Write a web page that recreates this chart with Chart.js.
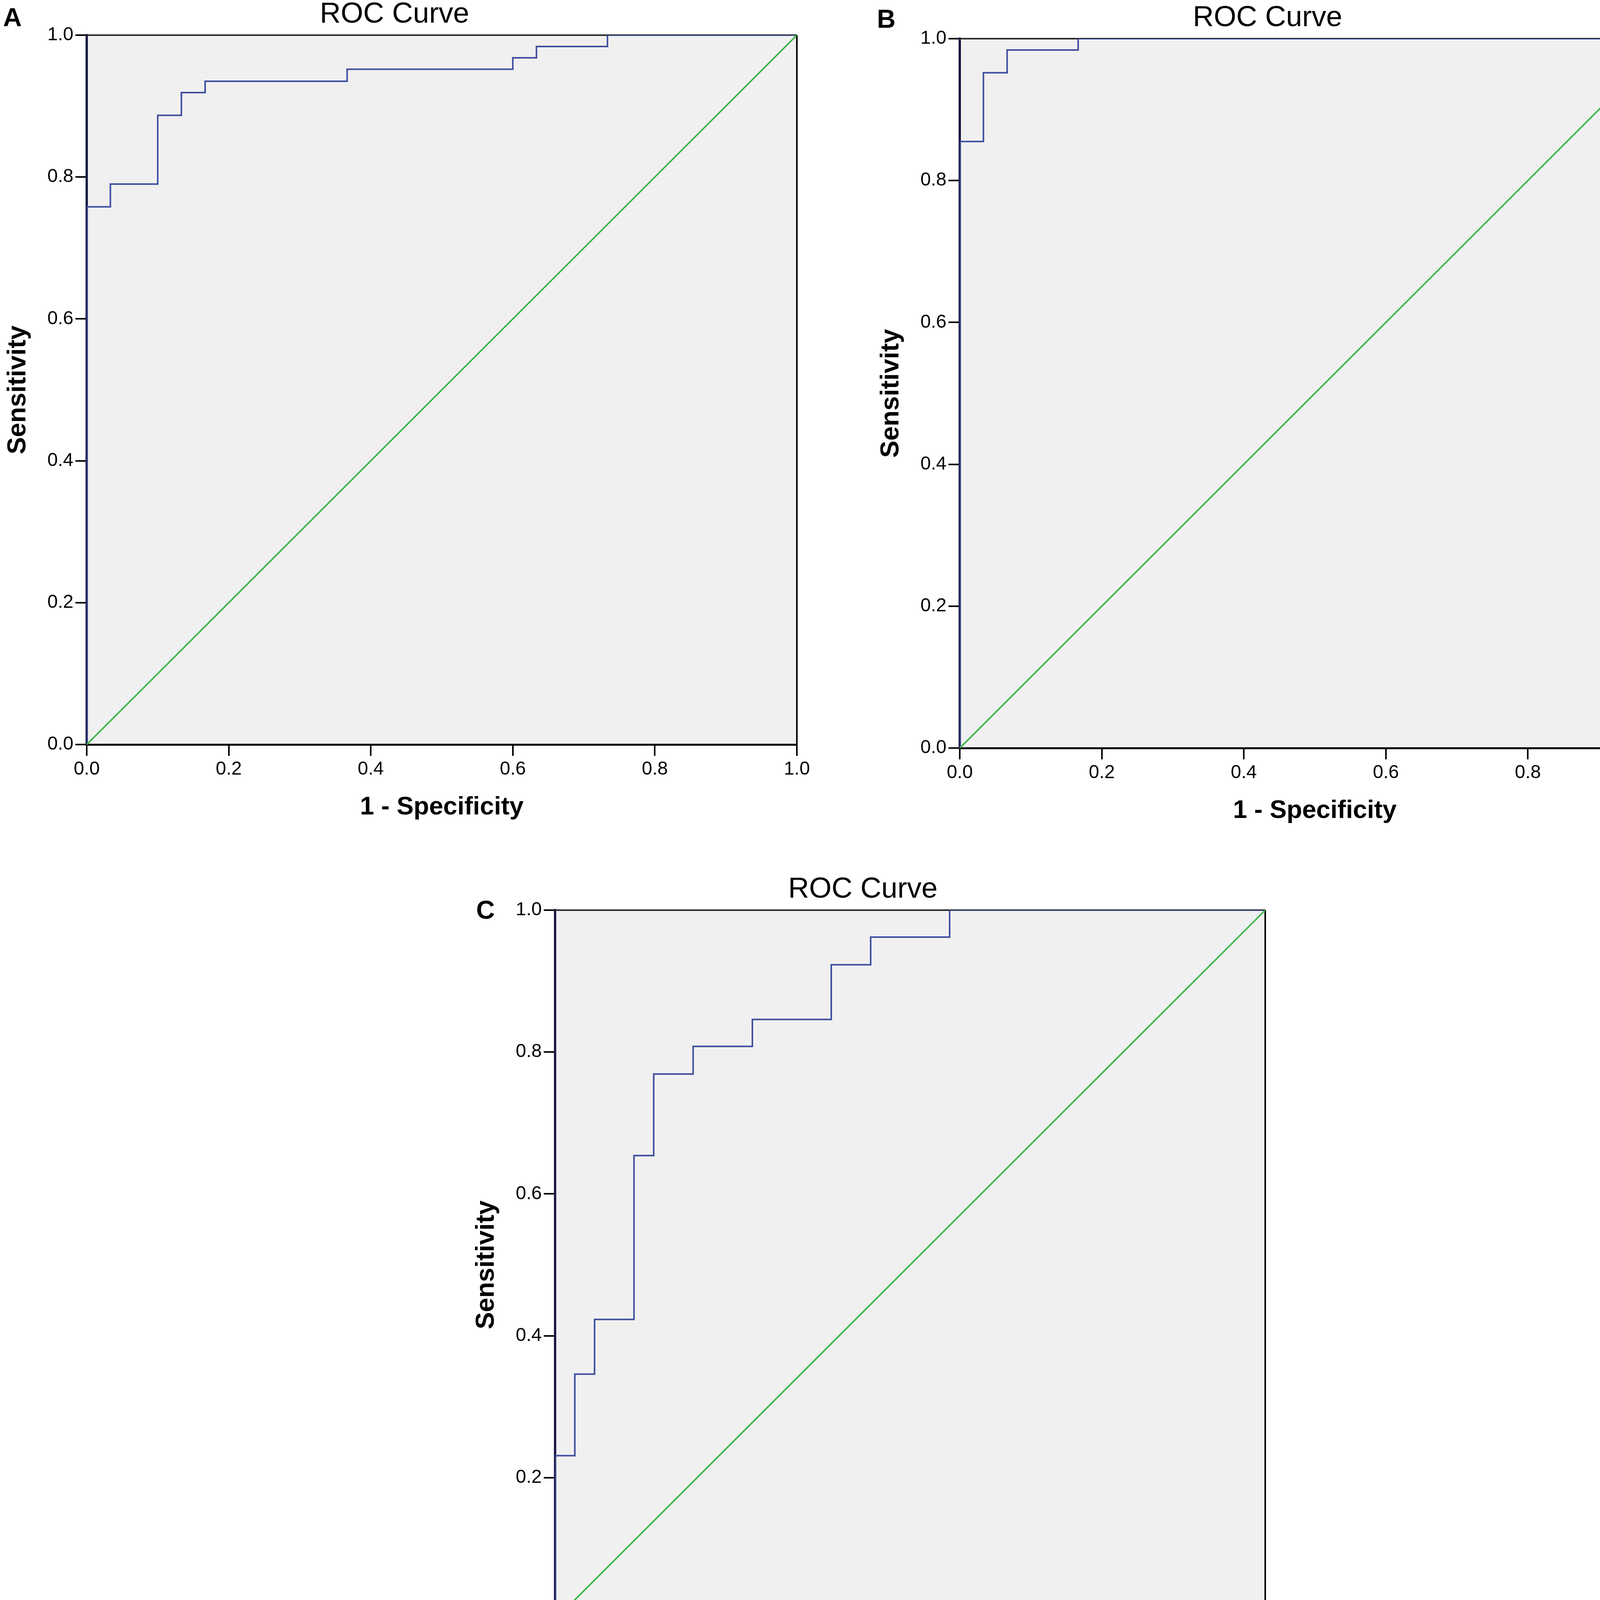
<!DOCTYPE html>
<html><head><meta charset="utf-8">
<script src="https://cdn.jsdelivr.net/npm/chart.js@4.4.0/dist/chart.umd.min.js"></script>
<style>
html,body{margin:0;padding:0;background:#fff;width:4317px;height:4354px;overflow:hidden;position:relative}
canvas{position:absolute}
</style></head><body>
<canvas id="cA"></canvas><canvas id="cB"></canvas><canvas id="cC"></canvas>
<script>
// ---------- DATA ----------
const tickValues = [0, 0.2, 0.4, 0.6, 0.8, 1.0];
const tickLabels = ['0.0', '0.2', '0.4', '0.6', '0.8', '1.0'];
const panelLetters = ['A', 'B', 'C'];
const chartTitle = 'ROC Curve';
const xAxisTitle = '1 - Specificity';
const yAxisTitle = 'Sensitivity';
const refLineX = [0, 1];
const refLineY = [0, 1];

// ROC corner points (1 - specificity, sensitivity)
const rocA_fpr = [0, 0, 0.0333, 0.1, 0.1333, 0.1667, 0.3667, 0.6, 0.6333, 0.7333, 1];
const rocA_tpr = [0, 0.758, 0.790, 0.887, 0.919, 0.935, 0.952, 0.968, 0.984, 1, 1];

const rocB_fpr = [0, 0, 0.0333, 0.0667, 0.1667, 1];
const rocB_tpr = [0, 0.855, 0.952, 0.984, 1, 1];

const rocC_fpr = [0, 0, 0.0278, 0.0556, 0.1111, 0.1389, 0.1944, 0.2778, 0.3889, 0.4444, 0.5556, 1];
const rocC_tpr = [0, 0.231, 0.346, 0.423, 0.654, 0.769, 0.808, 0.846, 0.923, 0.962, 1, 1];

// ---------- LAYOUT ----------
const Y_AXIS_W = 222, TOP_PAD = 90, PLOT_W = 1818, PLOT_H = 1816, RIGHT_PAD = 160, X_AXIS_H = 240;
const CANVAS_W = Y_AXIS_W + PLOT_W + RIGHT_PAD;
const CANVAS_H = TOP_PAD + PLOT_H + X_AXIS_H;
const panels = [
  {id: 'cA', left: 0,    top: 0,    fpr: rocA_fpr, tpr: rocA_tpr, letter: panelLetters[0], ldx: -214, ldy: -23},
  {id: 'cB', left: 2235, top: 9,    fpr: rocB_fpr, tpr: rocB_tpr, letter: panelLetters[1], ldx: -212, ldy: -28},
  {id: 'cC', left: 1199, top: 2240, fpr: rocC_fpr, tpr: rocC_tpr, letter: panelLetters[2], ldx: -202, ldy: 22}
];

const FONT = "'Liberation Sans', Arial, Helvetica, sans-serif";
Chart.defaults.font.family = FONT;
Chart.defaults.color = '#000';

const deco = {
  id: 'deco',
  beforeDraw(chart) {
    const {ctx, chartArea: a} = chart;
    ctx.save();
    ctx.fillStyle = '#f0f0f0';
    ctx.fillRect(a.left, a.top, a.right - a.left, a.bottom - a.top);
    ctx.restore();
  },
  beforeDatasetsDraw(chart) {
    const {ctx, chartArea: a} = chart;
    ctx.save();
    ctx.lineWidth = 4;
    ctx.strokeStyle = '#2a2a2a';
    ctx.beginPath(); ctx.moveTo(a.left, a.top); ctx.lineTo(a.right, a.top); ctx.stroke();
    ctx.strokeStyle = '#000';
    ctx.beginPath(); ctx.moveTo(a.right, a.top); ctx.lineTo(a.right, a.bottom); ctx.stroke();
    ctx.restore();
  },
  afterDraw(chart, args, o) {
    const {ctx, chartArea: a} = chart;
    ctx.save();
    ctx.fillStyle = '#000';
    ctx.textBaseline = 'alphabetic';
    ctx.textAlign = 'center';
    ctx.font = 'normal 74px ' + FONT;
    ctx.fillText(chartTitle, a.left + 788, a.top - 32);
    ctx.textAlign = 'left';
    ctx.font = 'bold 66px ' + FONT;
    ctx.fillText(o.letter, a.left + o.ldx, a.top + o.ldy);
    ctx.restore();
  }
};

panels.forEach(p => {
  const cv = document.getElementById(p.id);
  cv.width = CANVAS_W; cv.height = CANVAS_H;
  cv.style.left = p.left + 'px'; cv.style.top = p.top + 'px';
  cv.style.width = CANVAS_W + 'px'; cv.style.height = CANVAS_H + 'px';
  const rocPts = p.fpr.map((x, i) => ({x, y: p.tpr[i]}));
  const refPts = refLineX.map((x, i) => ({x, y: refLineY[i]}));
  new Chart(cv, {
    type: 'line',
    data: {
      datasets: [
        {data: refPts, borderColor: '#3ab54a', borderWidth: 4, pointRadius: 0, fill: false, tension: 0},
        {data: rocPts, borderColor: '#3e4f9f', borderWidth: 4, pointRadius: 0, fill: false, stepped: 'before'}
      ]
    },
    options: {
      responsive: false, maintainAspectRatio: false, animation: false, devicePixelRatio: 1,
      layout: {padding: {top: TOP_PAD, right: RIGHT_PAD, left: 0, bottom: 0}},
      plugins: {legend: {display: false}, tooltip: {enabled: false}, title: {display: false},
        deco: {letter: p.letter, ldx: p.ldx, ldy: p.ldy}},
      scales: {
        x: {
          type: 'linear', min: 0, max: 1,
          afterFit: s => { s.height = X_AXIS_H; },
          afterBuildTicks: s => { s.ticks = tickValues.map(v => ({value: v})); },
          ticks: {font: {size: 48}, padding: 6, maxRotation: 0, autoSkip: false,
            callback: (v) => tickLabels[tickValues.indexOf(v)] ?? ''},
          grid: {drawOnChartArea: false, drawTicks: true, tickLength: 29, color: '#000', lineWidth: 4},
          border: {display: true, color: '#000', width: 5},
          title: {display: true, text: xAxisTitle, font: {size: 65, weight: 'bold'}, padding: {top: 0, bottom: 40}}
        },
        y: {
          type: 'linear', min: 0, max: 1,
          afterFit: s => { s.width = Y_AXIS_W; },
          afterBuildTicks: s => { s.ticks = tickValues.map(v => ({value: v})); },
          ticks: {font: {size: 48}, padding: 5, autoSkip: false,
            callback: (v) => tickLabels[tickValues.indexOf(v)] ?? ''},
          grid: {drawOnChartArea: false, drawTicks: true, tickLength: 29, color: '#000', lineWidth: 4},
          border: {display: true, color: '#1a1a45', width: 6},
          title: {display: true, text: yAxisTitle, font: {size: 66, weight: 'bold'}, padding: {top: 7, bottom: 0}}
        }
      }
    },
    plugins: [deco]
  });
});
</script>
</body></html>
